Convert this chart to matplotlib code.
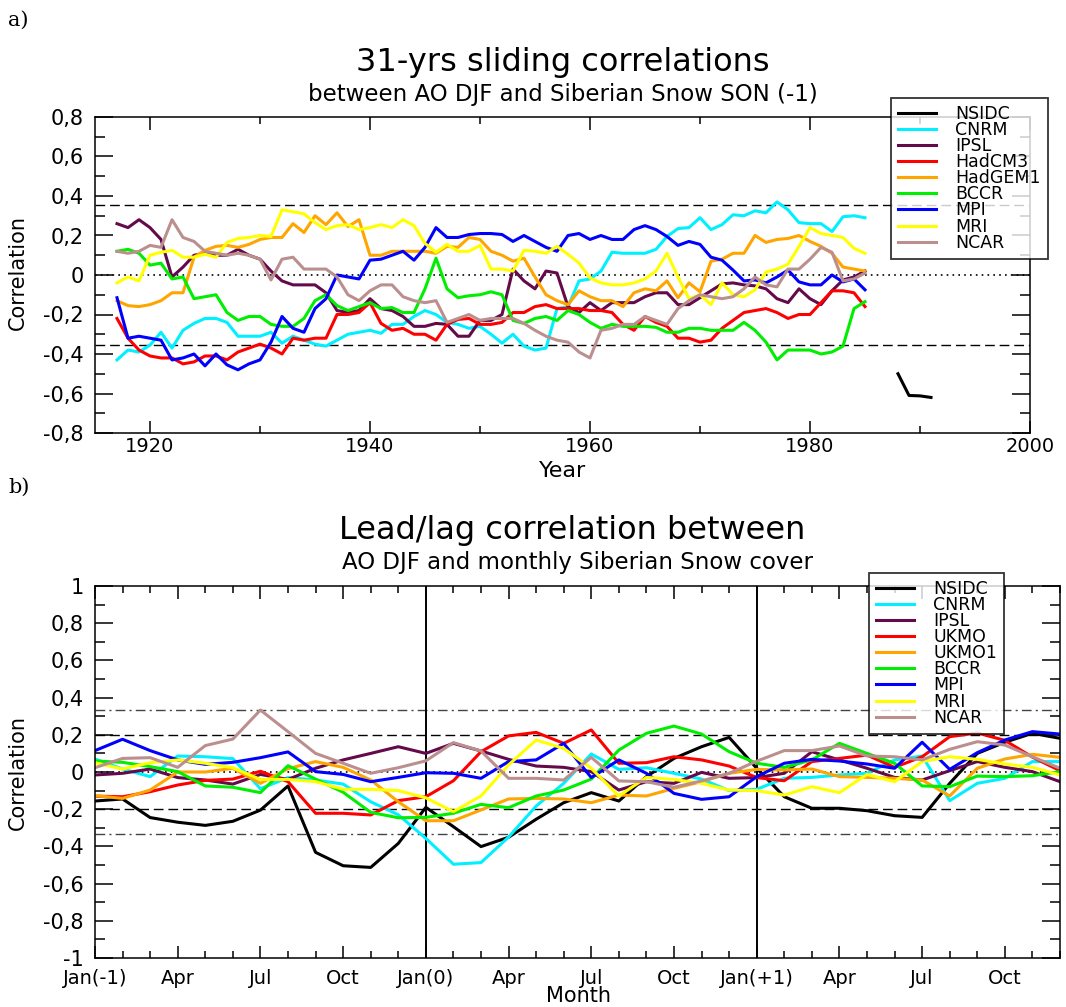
import numpy as np
import matplotlib.pyplot as plt
from matplotlib.ticker import MultipleLocator, FuncFormatter

# ---------------- panel a: 31-yr sliding correlations ----------------
years = list(range(1917, 1986))

cnrm_a = [-0.43, -0.38, -0.39, -0.355, -0.29, -0.37, -0.28, -0.245, -0.22, -0.22,
          -0.24, -0.31, -0.31, -0.31, -0.29, -0.345, -0.31, -0.33, -0.35, -0.36,
          -0.33, -0.30, -0.29, -0.28, -0.295, -0.25, -0.25, -0.21, -0.18, -0.20,
          -0.24, -0.25, -0.27, -0.26, -0.30, -0.345, -0.30, -0.36, -0.38, -0.37,
          -0.17, -0.16, -0.03, -0.02, 0.02, 0.115, 0.11, 0.11, 0.11, 0.13,
          0.195, 0.235, 0.24, 0.29, 0.23, 0.255, 0.305, 0.30, 0.325, 0.315,
          0.37, 0.33, 0.265, 0.26, 0.26, 0.22, 0.295, 0.30, 0.29]
ipsl_a = [0.26, 0.24, 0.28, 0.24, 0.18, -0.01, 0.04, 0.10, 0.11, 0.10,
          0.10, 0.13, 0.10, 0.08, 0.02, -0.03, -0.05, -0.05, -0.05, -0.09,
          -0.18, -0.19, -0.18, -0.12, -0.17, -0.18, -0.21, -0.26, -0.26, -0.245,
          -0.25, -0.31, -0.31, -0.23, -0.23, -0.20, 0.03, -0.03, -0.07, 0.02,
          0.01, -0.16, -0.19, -0.14, -0.18, -0.14, -0.14, -0.14, -0.11, -0.09,
          -0.09, -0.15, -0.15, -0.115, -0.08, -0.045, -0.04, -0.05, -0.055, -0.07,
          -0.12, -0.14, -0.07, -0.12, -0.15, -0.08, -0.025, -0.01, 0.02]
hadcm3_a = [-0.22, -0.32, -0.38, -0.41, -0.42, -0.42, -0.45, -0.44, -0.41, -0.41,
            -0.43, -0.39, -0.37, -0.35, -0.37, -0.40, -0.32, -0.33, -0.32, -0.32,
            -0.20, -0.20, -0.19, -0.14, -0.245, -0.28, -0.27, -0.30, -0.30, -0.33,
            -0.25, -0.225, -0.22, -0.25, -0.25, -0.24, -0.19, -0.19, -0.16, -0.15,
            -0.17, -0.17, -0.17, -0.18, -0.18, -0.19, -0.25, -0.28, -0.21, -0.24,
            -0.26, -0.32, -0.32, -0.34, -0.33, -0.27, -0.23, -0.19, -0.18, -0.17,
            -0.19, -0.22, -0.20, -0.20, -0.14, -0.08, -0.08, -0.09, -0.16]
hadgem1_a = [-0.13, -0.155, -0.16, -0.15, -0.13, -0.09, -0.09, 0.09, 0.125, 0.145,
             0.15, 0.14, 0.155, 0.18, 0.19, 0.19, 0.26, 0.215, 0.30, 0.255,
             0.315, 0.245, 0.28, 0.10, 0.10, 0.12, 0.12, 0.12, 0.12, 0.11,
             0.145, 0.14, 0.19, 0.18, 0.12, 0.10, 0.07, 0.085, -0.01, -0.10,
             -0.13, -0.15, -0.08, -0.11, -0.13, -0.13, -0.16, -0.09, -0.07, -0.08,
             -0.03, -0.115, -0.04, -0.085, 0.07, 0.08, 0.11, 0.11, 0.20, 0.165,
             0.18, 0.185, 0.20, 0.17, 0.145, 0.11, 0.04, 0.03, 0.02]
bccr_a = [0.12, 0.13, 0.11, 0.05, 0.06, -0.02, -0.01, -0.12, -0.11, -0.10,
          -0.19, -0.23, -0.21, -0.21, -0.25, -0.26, -0.26, -0.22, -0.13, -0.10,
          -0.155, -0.18, -0.16, -0.14, -0.17, -0.165, -0.19, -0.19, -0.07, 0.085,
          -0.07, -0.115, -0.105, -0.10, -0.085, -0.10, -0.23, -0.245, -0.22, -0.21,
          -0.23, -0.18, -0.20, -0.24, -0.27, -0.25, -0.26, -0.26, -0.26, -0.265,
          -0.29, -0.29, -0.27, -0.27, -0.28, -0.28, -0.28, -0.24, -0.28, -0.34,
          -0.43, -0.38, -0.38, -0.38, -0.40, -0.39, -0.36, -0.17, -0.135]
mpi_a = [-0.115, -0.32, -0.31, -0.32, -0.33, -0.43, -0.42, -0.40, -0.46, -0.40,
         -0.455, -0.48, -0.45, -0.43, -0.34, -0.21, -0.27, -0.29, -0.17, -0.12,
         0.00, -0.01, -0.02, 0.075, 0.08, 0.10, 0.12, 0.075, 0.14, 0.24,
         0.19, 0.19, 0.205, 0.21, 0.21, 0.205, 0.17, 0.20, 0.17, 0.14,
         0.12, 0.20, 0.21, 0.18, 0.20, 0.18, 0.18, 0.23, 0.25, 0.23,
         0.195, 0.15, 0.17, 0.155, 0.09, 0.075, 0.025, -0.03, -0.025, -0.04,
         -0.01, 0.025, -0.035, -0.05, -0.05, 0.0, -0.035, -0.02, -0.075]
mri_a = [-0.04, -0.01, -0.03, 0.10, 0.115, 0.125, 0.09, 0.09, 0.105, 0.09,
         0.165, 0.185, 0.19, 0.20, 0.195, 0.33, 0.32, 0.31, 0.265, 0.23,
         0.25, 0.255, 0.23, 0.24, 0.255, 0.24, 0.28, 0.25, 0.16, 0.115,
         0.155, 0.12, 0.12, 0.15, 0.03, 0.03, 0.02, 0.125, 0.12, 0.11,
         0.145, 0.105, 0.06, -0.015, -0.04, -0.05, -0.05, -0.04, -0.02, 0.02,
         0.11, -0.01, -0.12, -0.10, -0.15, -0.04, -0.10, -0.11, -0.075, 0.015,
         0.03, 0.055, 0.145, 0.24, 0.21, 0.20, 0.19, 0.135, 0.11]
ncar_a = [0.12, 0.11, 0.12, 0.15, 0.14, 0.28, 0.19, 0.17, 0.12, 0.11,
          0.10, 0.11, 0.10, 0.08, -0.025, 0.08, 0.09, 0.03, 0.03, 0.03,
          -0.01, -0.10, -0.13, -0.08, -0.05, -0.05, -0.11, -0.13, -0.14, -0.13,
          -0.24, -0.22, -0.20, -0.23, -0.22, -0.22, -0.22, -0.245, -0.28, -0.31,
          -0.33, -0.34, -0.39, -0.42, -0.28, -0.27, -0.25, -0.25, -0.21, -0.23,
          -0.25, -0.17, -0.13, -0.10, -0.11, -0.12, -0.11, -0.07, -0.01, -0.05,
          -0.06, 0.03, 0.03, 0.08, 0.14, 0.115, -0.03, -0.02, 0.01]
nsidc_years = [1988, 1989, 1990, 1991]
nsidc_a = [-0.50, -0.61, -0.612, -0.62]

# ---------------- panel b: lead/lag correlations ----------------
months = list(range(36))
nsidc_b = [-0.156, -0.145, -0.245, -0.27, -0.287, -0.265, -0.205, -0.075, -0.432, -0.504, -0.513, -0.384,
           -0.19, -0.294, -0.401, -0.351, -0.254, -0.165, -0.111, -0.156, -0.025, 0.073, 0.136, 0.186,
           0.02, -0.133, -0.195, -0.195, -0.208, -0.235, -0.244, -0.061, 0.10, 0.16, 0.208, 0.181]
cnrm_b = [0.07, 0.016, -0.025, 0.086, 0.082, 0.072, -0.09, -0.03, -0.043, -0.065, -0.16, -0.23,
          -0.357, -0.496, -0.487, -0.35, -0.183, -0.061, 0.097, 0.014, 0.023, -0.007, -0.038, -0.1,
          -0.093, -0.034, -0.029, -0.016, -0.007, 0.065, 0.086, -0.154, -0.061, -0.034, 0.056, 0.056]
ipsl_b = [-0.016, -0.007, 0.016, -0.03, -0.043, -0.065, -0.013, -0.04, 0.02, 0.065, 0.10, 0.136,
          0.10, 0.154, 0.113, 0.068, 0.032, 0.025, 0.002, -0.097, -0.052, -0.061, -0.002, -0.034,
          -0.03, -0.007, 0.109, 0.065, 0.02, -0.029, -0.043, 0.007, 0.056, 0.025, 0.002, -0.052]
ukmo_b = [-0.13, -0.133, -0.106, -0.07, -0.045, -0.038, 0.004, -0.052, -0.222, -0.222, -0.231, -0.154,
          -0.133, -0.047, 0.109, 0.194, 0.213, 0.154, 0.226, 0.047, 0.05, 0.082, 0.065, 0.032,
          -0.03, -0.047, 0.056, 0.073, 0.091, 0.025, 0.082, 0.19, 0.21, 0.17, 0.08, 0.007]
ukmo1_b = [-0.127, -0.142, -0.097, 0.0, 0.0, 0.02, -0.061, 0.018, 0.056, 0.025, -0.043, -0.16,
           -0.262, -0.262, -0.204, -0.145, -0.142, -0.145, -0.165, -0.124, -0.129, -0.088, -0.052, -0.007,
           0.014, 0.011, 0.016, -0.025, -0.029, -0.034, -0.043, -0.129, 0.02, 0.07, 0.095, 0.079]
bccr_b = [0.059, 0.052, 0.029, 0.002, -0.075, -0.082, -0.111, 0.034, -0.038, -0.109, -0.217, -0.246,
          -0.244, -0.222, -0.174, -0.192, -0.129, -0.097, -0.038, 0.118, 0.208, 0.247, 0.204, 0.109,
          0.047, 0.025, 0.065, 0.154, 0.10, 0.047, -0.075, -0.079, -0.022, -0.025, -0.02, 0.002]
mpi_b = [0.115, 0.176, 0.115, 0.065, 0.041, 0.052, 0.077, 0.108, 0.002, -0.013, -0.052, -0.029,
         -0.004, -0.007, -0.034, 0.056, 0.065, 0.154, -0.03, 0.065, -0.007, -0.115, -0.147, -0.133,
         -0.025, 0.047, 0.068, 0.059, 0.043, 0.02, 0.16, 0.014, 0.104, 0.172, 0.217, 0.204]
mri_b = [0.05, 0.016, 0.05, 0.065, 0.047, 0.023, -0.04, -0.04, -0.052, -0.093, -0.093, -0.1,
         -0.139, -0.213, -0.129, 0.038, 0.172, 0.127, 0.02, -0.129, -0.029, -0.04, -0.061, -0.097,
         -0.1, -0.124, -0.079, -0.111, -0.013, -0.052, 0.056, 0.082, 0.068, 0.043, 0.025, -0.016]
ncar_b = [0.023, 0.073, 0.077, 0.025, 0.142, 0.177, 0.333, 0.217, 0.10, 0.047, -0.007, 0.023,
          0.06, 0.158, 0.113, -0.034, -0.034, -0.043, 0.079, -0.048, -0.052, -0.082, -0.048, -0.007,
          0.058, 0.115, 0.115, 0.14, 0.086, 0.082, 0.065, 0.122, 0.163, 0.145, 0.082, 0.02]

month_ticks = [0, 3, 6, 9, 12, 15, 18, 21, 24, 27, 30, 33]
month_labels = ['Jan(-1)', 'Apr', 'Jul', 'Oct', 'Jan(0)', 'Apr', 'Jul', 'Oct',
                'Jan(+1)', 'Apr', 'Jul', 'Oct']

colors = {'NSIDC': 'black', 'CNRM': '#00f0ff', 'IPSL': '#640a4b', 'HadCM3': '#ff0000',
          'HadGEM1': '#ffa500', 'BCCR': '#00ee00', 'MPI': '#0000ff', 'MRI': '#ffff00',
          'NCAR': '#bc8f8f'}

plt.rcParams['font.family'] = 'DejaVu Sans'


def comma_fmt(v, pos):
    v = round(v, 1)
    if abs(v) < 1e-9:
        return '0'
    return ('%g' % v).replace('.', ',')


def style_axes(ax, xsize, xpad):
    for s in ax.spines.values():
        s.set_linewidth(1.1)
    ax.tick_params(which='both', direction='in', top=True, right=True)
    ax.tick_params(axis='y', which='major', length=13, width=1.1, pad=8, labelsize=15)
    ax.tick_params(axis='y', which='minor', length=7, width=1.1)
    ax.tick_params(axis='x', which='major', length=9, width=1.1, pad=xpad, labelsize=xsize)
    ax.tick_params(axis='x', which='minor', length=5, width=1.1)
    ax.yaxis.set_major_formatter(FuncFormatter(comma_fmt))


def add_legend(ax, x0, y0):
    leg = ax.legend(loc='upper left', bbox_to_anchor=(x0 / W, 1 - y0 / H),
                    bbox_transform=fig.transFigure, fontsize=12.5, frameon=True,
                    fancybox=False, borderaxespad=0, handlelength=2.2,
                    labelspacing=-0.11, handletextpad=1.1, borderpad=0.4)
    leg.get_frame().set_edgecolor('black')
    leg.get_frame().set_linewidth(1.3)
    return leg


fig = plt.figure(figsize=(10.66, 10.07), dpi=100)
W, H = 1066, 1007
lw = 2.2

# panel a
axa = fig.add_axes([95 / W, 1 - 433 / H, 935 / W, 316 / H])
axa.axhline(0.355, color='black', lw=1.0, ls=(0, (7, 3.5)), zorder=1)
axa.axhline(-0.355, color='black', lw=1.0, ls=(0, (7, 3.5)), zorder=1)
axa.axhline(0, color='black', lw=1.2, ls=(0, (1, 2.5)), zorder=1)
axa.plot(nsidc_years, nsidc_a, color=colors['NSIDC'], lw=lw, label='NSIDC')
axa.plot(years, cnrm_a, color=colors['CNRM'], lw=lw, label='CNRM')
axa.plot(years, ipsl_a, color=colors['IPSL'], lw=lw, label='IPSL')
axa.plot(years, hadcm3_a, color=colors['HadCM3'], lw=lw, label='HadCM3')
axa.plot(years, hadgem1_a, color=colors['HadGEM1'], lw=lw, label='HadGEM1')
axa.plot(years, bccr_a, color=colors['BCCR'], lw=lw, label='BCCR')
axa.plot(years, mpi_a, color=colors['MPI'], lw=lw, label='MPI')
axa.plot(years, mri_a, color=colors['MRI'], lw=lw, label='MRI')
axa.plot(years, ncar_a, color=colors['NCAR'], lw=lw, label='NCAR')
axa.set_xlim(1915, 2000)
axa.set_ylim(-0.8, 0.8)
axa.xaxis.set_major_locator(MultipleLocator(20))
axa.xaxis.set_minor_locator(MultipleLocator(10))
axa.yaxis.set_major_locator(MultipleLocator(0.2))
axa.yaxis.set_minor_locator(MultipleLocator(0.1))
style_axes(axa, 14, 3)
add_legend(axa, 891, 98)
fig.text(563 / W, 1 - 471 / H, 'Year', ha='center', va='center', fontsize=16)
fig.text(18 / W, 1 - 272 / H, 'Correlation', rotation=90, ha='center', va='center', fontsize=15)
fig.text(563 / W, 1 - 62 / H, '31-yrs sliding correlations', ha='center', va='center', fontsize=23)
fig.text(563 / W, 1 - 95 / H, 'between AO DJF and Siberian Snow SON (-1)', ha='center', va='center', fontsize=16.5)
fig.text(8 / W, 1 - 20 / H, 'a)', ha='left', va='center', fontsize=15, family='DejaVu Serif')

# panel b
axb = fig.add_axes([95 / W, 1 - 958 / H, 965 / W, 372 / H])
axb.axhline(0.335, color='#444444', lw=1.0, ls=(0, (7, 3, 1.5, 3)), zorder=1)
axb.axhline(-0.335, color='#444444', lw=1.0, ls=(0, (7, 3, 1.5, 3)), zorder=1)
axb.axhline(0.2, color='black', lw=1.0, ls=(0, (7, 3.5)), zorder=1)
axb.axhline(-0.2, color='black', lw=1.0, ls=(0, (7, 3.5)), zorder=1)
axb.axhline(0, color='black', lw=1.2, ls=(0, (1, 2.5)), zorder=1)
axb.axvline(12, color='black', lw=1.4, zorder=1)
axb.axvline(24, color='black', lw=1.4, zorder=1)
axb.plot(months, nsidc_b, color=colors['NSIDC'], lw=lw, label='NSIDC')
axb.plot(months, cnrm_b, color=colors['CNRM'], lw=lw, label='CNRM')
axb.plot(months, ipsl_b, color=colors['IPSL'], lw=lw, label='IPSL')
axb.plot(months, ukmo_b, color=colors['HadCM3'], lw=lw, label='UKMO')
axb.plot(months, ukmo1_b, color=colors['HadGEM1'], lw=lw, label='UKMO1')
axb.plot(months, bccr_b, color=colors['BCCR'], lw=lw, label='BCCR')
axb.plot(months, mpi_b, color=colors['MPI'], lw=lw, label='MPI')
axb.plot(months, mri_b, color=colors['MRI'], lw=lw, label='MRI')
axb.plot(months, ncar_b, color=colors['NCAR'], lw=lw, label='NCAR')
axb.set_xlim(0, 35)
axb.set_ylim(-1, 1)
axb.set_xticks(month_ticks)
axb.set_xticklabels(month_labels)
axb.xaxis.set_minor_locator(MultipleLocator(1))
axb.yaxis.set_major_locator(MultipleLocator(0.2))
axb.yaxis.set_minor_locator(MultipleLocator(0.1))
style_axes(axb, 14, 8)
for t in axb.get_yticklabels():
    t.set_verticalalignment('center_baseline')
add_legend(axb, 869, 573)
fig.text(578 / W, 1 - 996 / H, 'Month', ha='center', va='center', fontsize=15)
fig.text(18 / W, 1 - 772 / H, 'Correlation', rotation=90, ha='center', va='center', fontsize=15)
fig.text(572 / W, 1 - 530 / H, 'Lead/lag correlation between', ha='center', va='center', fontsize=23)
fig.text(578 / W, 1 - 562 / H, 'AO DJF and monthly Siberian Snow cover', ha='center', va='center', fontsize=16.5)
fig.text(8 / W, 1 - 487 / H, 'b)', ha='left', va='center', fontsize=15, family='DejaVu Serif')

fig.savefig('out.png', dpi=100)
